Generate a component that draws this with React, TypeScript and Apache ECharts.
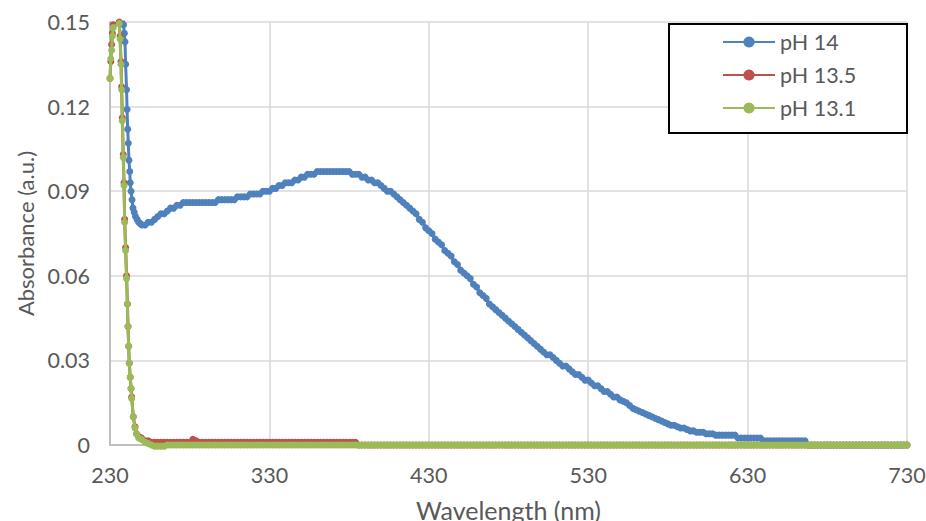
import React, { useEffect, useRef } from "react";
import * as echarts from "echarts";

// ---- Series names / colours ----
const seriesNames = ["pH 14", "pH 13.5", "pH 13.1"];
const seriesColors = ["#4F81BD", "#C0504D", "#9BBB59"];

// ---- Axis ranges / ticks ----
const xMin = 230;
const xMax = 730;
const xStep = 100;
const yMin = 0;
const yMax = 0.15;
const yStep = 0.03;

// ---- Absorbance values are stored in milli-absorbance units (x 0.001) ----

// pH 14: dense head (steep descent)
const ph14HeadNm = [238.2, 238.5, 239, 239.4, 239.8, 240.4, 240.7, 241.1, 241.5, 241.9, 242.4, 242.7, 243.2, 243.8, 244.4, 245.2, 246, 247, 248, 249, 250];
const ph14HeadMilli = [175, 149, 146, 143, 135, 126, 119, 112, 107, 101, 97, 93, 90, 87, 84, 82.5, 81, 80, 79, 78.5, 78];

// pH 13.5: dense head
const ph135HeadNm = [230, 230.5, 231, 231.5, 232, 235.8, 236.3, 236.9, 237.3, 237.7, 238.3, 238.8, 239.2, 239.8, 240.4, 240.9, 241.3, 241.7, 242.1, 242.7, 243.2, 243.6, 244.6, 245.7, 246.7, 248, 249.8];
const ph135HeadMilli = [130, 136, 142, 146, 149, 150, 145, 136, 127, 116, 103, 93, 80, 70, 60, 50, 42, 35, 29, 24, 20, 17, 10, 6.5, 4, 3, 2.5];

// pH 13.1: dense head
const ph131HeadNm = [230, 230.5, 231, 231.5, 232, 235.8, 236.3, 236.9, 237.3, 237.7, 238.3, 238.8, 239.2, 239.8, 240.4, 240.9, 241.3, 241.7, 242.1, 242.7, 243.2, 243.6, 244.6, 245.7, 246.7, 248, 249.8];
const ph131HeadMilli = [130, 137, 140, 145, 148, 149.5, 144, 135, 126, 115, 102, 92, 79, 69, 59, 50, 42, 35, 29, 24, 20, 16.5, 10, 6, 4, 2.5, 2];

// Regular sampling grid after the head: 252 nm .. 730 nm every 2 nm
const gridStartNm = 252;
const gridStepNm = 2;

const ph14TailMilli = [
  78, 79, 79, 80, 81, 82, 82, 83, 84, 84,
  85, 85, 86, 86, 86, 86, 86, 86, 86, 86,
  86, 86, 86, 87, 87, 87, 87, 87, 87, 88,
  88, 88, 88, 89, 89, 89, 89, 90, 90, 90,
  91, 91, 92, 92, 93, 93, 93, 94, 94, 95,
  95, 96, 96, 96, 97, 97, 97, 97, 97, 97,
  97, 97, 97, 97, 97, 96, 96, 96, 95, 95,
  94, 94, 93, 93, 92, 91, 90, 90, 89, 88,
  87, 86, 85, 84, 83, 82, 80, 79, 77, 76,
  75, 73, 72, 71, 69, 68, 67, 65, 64, 62,
  61, 60, 59, 57, 56, 54, 53, 52, 50, 49,
  48, 47, 46, 45, 44, 43, 42, 41, 40, 39,
  38, 37, 36, 35, 34, 33, 32, 32, 31, 30,
  29, 28, 28, 27, 26, 25, 25, 24, 23, 23,
  22, 21, 21, 20, 19, 19, 18, 17, 17, 16,
  15.5, 15, 14, 13, 12.5, 12, 11.5, 11, 10.5, 10,
  9.5, 9, 8.5, 8, 7.5, 7, 7, 6.5, 6, 6,
  5.5, 5, 5, 4.5, 4.5, 4.5, 4, 4, 4, 3.5,
  3.5, 3.5, 3.5, 3.5, 3.5, 3.5, 2.5, 2.5, 2.5, 2.5,
  2.5, 2.5, 2.5, 2.5, 1.5, 1.5, 1.5, 1.5, 1.5, 1.5,
  1.5, 1.5, 1.5, 1.5, 1.5, 1.5, 1.5, 1.5, 0, 0,
  0, 0, 0, 0, 0, 0, 0, 0, 0, 0,
  0, 0, 0, 0, 0, 0, 0, 0, 0, 0,
  0, 0, 0, 0, 0, 0, 0, 0, 0, 0,
];

const ph135TailMilli = [
  1.5, 1.5, 1, 1, 1, 1, 1, 1, 1, 1,
  1, 1, 1, 1, 1, 2, 1.5, 1, 1, 1,
  1, 1, 1, 1, 1, 1, 1, 1, 1, 1,
  1, 1, 1, 1, 1, 1, 1, 1, 1, 1,
  1, 1, 1, 1, 1, 1, 1, 1, 1, 1,
  1, 1, 1, 1, 1, 1, 1, 1, 1, 1,
  1, 1, 1, 1, 1, 1, 1, 0, 0, 0,
  0, 0, 0, 0, 0, 0, 0, 0, 0, 0,
  0, 0, 0, 0, 0, 0, 0, 0, 0, 0,
  0, 0, 0, 0, 0, 0, 0, 0, 0, 0,
  0, 0, 0, 0, 0, 0, 0, 0, 0, 0,
  0, 0, 0, 0, 0, 0, 0, 0, 0, 0,
  0, 0, 0, 0, 0, 0, 0, 0, 0, 0,
  0, 0, 0, 0, 0, 0, 0, 0, 0, 0,
  0, 0, 0, 0, 0, 0, 0, 0, 0, 0,
  0, 0, 0, 0, 0, 0, 0, 0, 0, 0,
  0, 0, 0, 0, 0, 0, 0, 0, 0, 0,
  0, 0, 0, 0, 0, 0, 0, 0, 0, 0,
  0, 0, 0, 0, 0, 0, 0, 0, 0, 0,
  0, 0, 0, 0, 0, 0, 0, 0, 0, 0,
  0, 0, 0, 0, 0, 0, 0, 0, 0, 0,
  0, 0, 0, 0, 0, 0, 0, 0, 0, 0,
  0, 0, 0, 0, 0, 0, 0, 0, 0, 0,
  0, 0, 0, 0, 0, 0, 0, 0, 0, 0,
];

const ph131TailMilli = [
  1, 0.5, 0, -0.4, -0.4, -0.4, -0.4, 0, 0, 0,
  0, 0, 0, 0, 0, 0, 0, 0, 0, 0,
  0, 0, 0, 0, 0, 0, 0, 0, 0, 0,
  0, 0, 0, 0, 0, 0, 0, 0, 0, 0,
  0, 0, 0, 0, 0, 0, 0, 0, 0, 0,
  0, 0, 0, 0, 0, 0, 0, 0, 0, 0,
  0, 0, 0, 0, 0, 0, 0, 0, 0, 0,
  0, 0, 0, 0, 0, 0, 0, 0, 0, 0,
  0, 0, 0, 0, 0, 0, 0, 0, 0, 0,
  0, 0, 0, 0, 0, 0, 0, 0, 0, 0,
  0, 0, 0, 0, 0, 0, 0, 0, 0, 0,
  0, 0, 0, 0, 0, 0, 0, 0, 0, 0,
  0, 0, 0, 0, 0, 0, 0, 0, 0, 0,
  0, 0, 0, 0, 0, 0, 0, 0, 0, 0,
  0, 0, 0, 0, 0, 0, 0, 0, 0, 0,
  0, 0, 0, 0, 0, 0, 0, 0, 0, 0,
  0, 0, 0, 0, 0, 0, 0, 0, 0, 0,
  0, 0, 0, 0, 0, 0, 0, 0, 0, 0,
  0, 0, 0, 0, 0, 0, 0, 0, 0, 0,
  0, 0, 0, 0, 0, 0, 0, 0, 0, 0,
  0, 0, 0, 0, 0, 0, 0, 0, 0, 0,
  0, 0, 0, 0, 0, 0, 0, 0, 0, 0,
  0, 0, 0, 0, 0, 0, 0, 0, 0, 0,
  0, 0, 0, 0, 0, 0, 0, 0, 0, 0,
];

function buildSeriesData(headNm: number[], headMilli: number[], tailMilli: number[]) {
  const pts: number[][] = [];
  headNm.forEach((nm, i) => pts.push([nm, headMilli[i] / 1000]));
  tailMilli.forEach((v, i) => pts.push([gridStartNm + gridStepNm * i, v / 1000]));
  return pts;
}

const FONT = "Lato, 'Open Sans', sans-serif";
const TEXT_COLOR = "#595959";

export default function App() {
  const ref = useRef<HTMLDivElement>(null);

  useEffect(() => {
    document.body.style.margin = "0";
    document.body.style.overflow = "hidden";
    document.documentElement.style.overflow = "hidden";
    if (!ref.current) return;
    const chart = echarts.init(ref.current, null, { renderer: "svg" });

    const datasets = [
      buildSeriesData(ph14HeadNm, ph14HeadMilli, ph14TailMilli),
      buildSeriesData(ph135HeadNm, ph135HeadMilli, ph135TailMilli),
      buildSeriesData(ph131HeadNm, ph131HeadMilli, ph131TailMilli),
    ];

    const option: any = {
      animation: false,
      backgroundColor: "#ffffff",
      textStyle: { fontFamily: FONT },
      grid: {
        left: 110,
        right: 19,
        top: 22,
        bottom: 76,
        containLabel: false,
        outerBoundsMode: "none",
      },
      xAxis: {
        type: "value",
        min: xMin,
        max: xMax,
        interval: xStep,
        name: "Wavelength (nm)",
        nameLocation: "middle",
        nameGap: 52,
        nameTextStyle: { color: TEXT_COLOR, fontSize: 25, fontFamily: FONT },
        axisLine: { show: true, lineStyle: { color: "#bfbfbf", width: 2 } },
        axisTick: { show: false },
        axisLabel: { color: TEXT_COLOR, fontSize: 21.5, margin: 19, fontFamily: FONT },
        splitLine: { show: true, lineStyle: { color: "#d9d9d9", width: 1.5 } },
      },
      yAxis: {
        type: "value",
        min: yMin,
        max: yMax,
        interval: yStep,
        name: "Absorbance (a.u.)",
        nameLocation: "middle",
        nameGap: 72,
        nameRotate: 90,
        nameTextStyle: { color: TEXT_COLOR, fontSize: 22, fontFamily: FONT },
        axisLine: { show: true, lineStyle: { color: "#bfbfbf", width: 2 } },
        axisTick: { show: false },
        axisLabel: {
          color: TEXT_COLOR,
          fontSize: 21.5,
          margin: 20,
          fontFamily: FONT,
          formatter: (v: number) => (v === 0 ? "0" : v.toFixed(2)),
        },
        splitLine: { show: true, lineStyle: { color: "#d9d9d9", width: 1.5 } },
      },
      legend: {
        data: seriesNames,
        orient: "vertical",
        left: 722,
        top: 31,
        padding: 0,
        itemWidth: 52,
        itemHeight: 14,
        itemGap: 11,
        z: 5,
        textStyle: { color: TEXT_COLOR, fontSize: 21.5, fontFamily: FONT },
      },
      graphic: [
        {
          type: "rect",
          z: 3,
          shape: { x: 669, y: 24, width: 238, height: 109 },
          style: { fill: "#ffffff", stroke: "#000000", lineWidth: 2 },
        },
      ],
      series: seriesNames.map((name, i) => ({
        name,
        type: "line",
        data: datasets[i],
        color: seriesColors[i],
        symbol: "circle",
        symbolSize: 7,
        showSymbol: true,
        showAllSymbol: true,
        clip: i === 0,
        lineStyle: { width: 3, color: seriesColors[i] },
        itemStyle: { color: seriesColors[i] },
        z: 2 + i,
      })),
    };

    chart.setOption(option);
    return () => chart.dispose();
  }, []);

  return <div ref={ref} style={{ width: 926, height: 521, overflow: "hidden" }} />;
}
